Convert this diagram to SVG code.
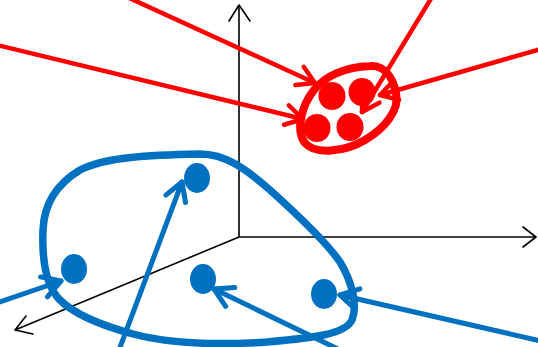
<svg xmlns="http://www.w3.org/2000/svg" width="538" height="347" viewBox="0 0 538 347">
<style>
.ax{fill:none;stroke:#000;stroke-width:1.6}
.axh{fill:none;stroke:#000;stroke-width:1.6;stroke-linecap:round;stroke-linejoin:round}
.rl{fill:none;stroke:#ff0000;stroke-width:4.5;stroke-linecap:round}
.bl{fill:none;stroke:#0070c0;stroke-width:5;stroke-linecap:round}
.rd{fill:#ff0000}
.bd{fill:#0070c0}
.rblob{fill:none;stroke:#ff0000;stroke-width:8}
.bblob{fill:none;stroke:#0070c0;stroke-width:7.5}
</style>
<defs>
<marker id="mr" markerUnits="userSpaceOnUse" markerWidth="40" markerHeight="40" viewBox="-30 -20 40 40" refX="0" refY="0" orient="auto" overflow="visible">
<path d="M-17,-10 L0,0 L-17,10" fill="none" stroke="#ff0000" stroke-width="4.5" stroke-linecap="round" stroke-linejoin="round"/>
</marker>
<marker id="mb" markerUnits="userSpaceOnUse" markerWidth="40" markerHeight="40" viewBox="-30 -20 40 40" refX="0" refY="0" orient="auto" overflow="visible">
<path d="M-18,-10.5 L0,0 L-18,10.5" fill="none" stroke="#0070c0" stroke-width="5" stroke-linecap="round" stroke-linejoin="round"/>
</marker>
</defs>
<g id="axes">
<line class="ax" x1="239" y1="237" x2="239" y2="5"/>
<polyline class="axh" points="229,21 239,5 250,21"/>
<line class="ax" x1="239" y1="237" x2="536" y2="237"/>
<polyline class="axh" points="523,227 536,237 523,247"/>
<line class="ax" x1="239" y1="237" x2="15" y2="330"/>
<polyline class="axh" points="26,316 15,330 33,334"/>
</g>
<g id="red-cluster">
<path class="rblob" d="M370,66 C345,67 325,76 314,90 C302,105 295,130 305,143 C315,155 345,152 365,140 C385,128 400,110 396,93 C393,78 385,65 370,66 Z"/>
<ellipse class="rd" cx="332" cy="96" rx="13.5" ry="14"/>
<ellipse class="rd" cx="362" cy="92" rx="13.5" ry="14"/>
<ellipse class="rd" cx="317" cy="128" rx="13.5" ry="14"/>
<ellipse class="rd" cx="350" cy="127" rx="13.5" ry="14"/>
</g>
<g id="blue-cluster">
<path class="bblob" d="M200,154 C225,154 245,168 270,190 C290,208 325,240 340,262 C352,282 358,305 352,320 C345,335 310,338 267,342 C220,345 170,344 133,334 C100,325 75,315 60,300 C45,285 42,255 43,230 C44,205 55,185 80,170 C105,157 150,155 200,154 Z"/>
<ellipse class="bd" cx="197" cy="178" rx="13" ry="15"/>
<ellipse class="bd" cx="74" cy="269" rx="13" ry="15"/>
<ellipse class="bd" cx="203" cy="279" rx="13" ry="15"/>
<ellipse class="bd" cx="324" cy="294" rx="13" ry="15"/>
</g>
<g id="connectors">
<line class="rl" x1="127" y1="-3" x2="315" y2="83" marker-end="url(#mr)"/>
<line class="rl" x1="-3" y1="45" x2="303" y2="119" marker-end="url(#mr)"/>
<line class="rl" x1="432" y1="-3" x2="362" y2="112" marker-end="url(#mr)"/>
<line class="rl" x1="541" y1="49" x2="380" y2="95" marker-end="url(#mr)"/>
<line class="bl" x1="119" y1="350" x2="182" y2="182" marker-end="url(#mb)"/>
<line class="bl" x1="-3" y1="303" x2="61" y2="281" marker-end="url(#mb)"/>
<line class="bl" x1="340" y1="350" x2="214" y2="289" marker-end="url(#mb)"/>
<line class="bl" x1="541" y1="341" x2="340" y2="295" marker-end="url(#mb)"/>
</g>
</svg>
